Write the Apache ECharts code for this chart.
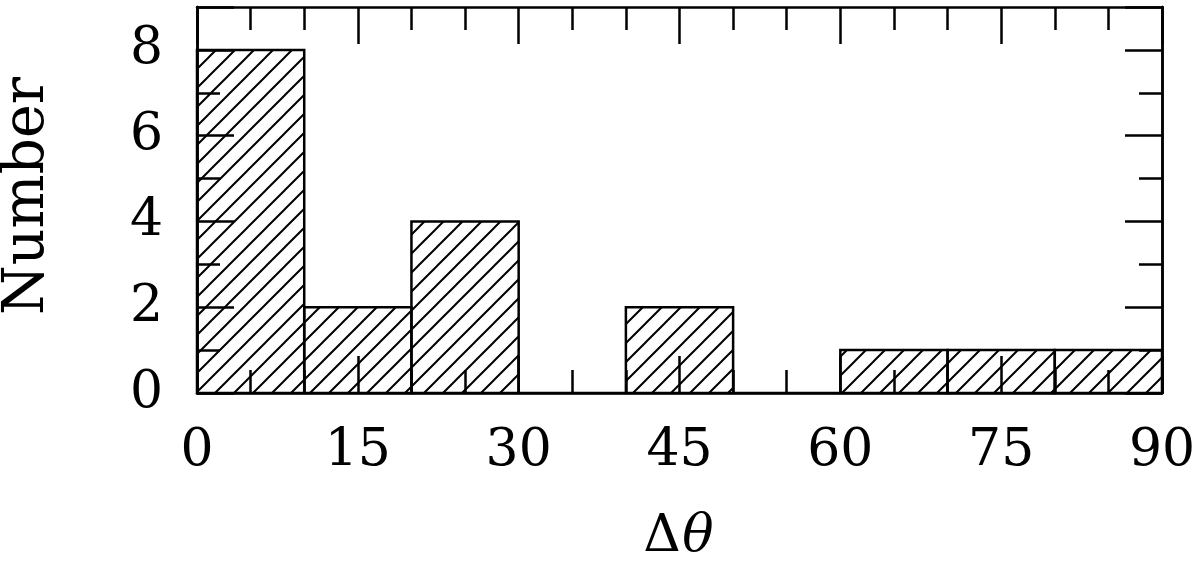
<!DOCTYPE html>
<html>
<head>
<meta charset="utf-8">
<script src="https://cdn.jsdelivr.net/npm/echarts@6/dist/echarts.min.js"></script>
<style>
  html, body { margin: 0; padding: 0; background: #fff; }
  #chart { width: 1200px; height: 564px; }
</style>
</head>
<body>
<div id="chart"></div>
<script>
// histogram bins (degrees) and counts
const binStarts = [0, 10, 20, 30, 40, 50, 60, 70, 80]
const binEnds = [10, 20, 30, 40, 50, 60, 70, 80, 90]
const counts = [8, 2, 4, 0, 2, 0, 1, 1, 1]
const xTicks = [0, 15, 30, 45, 60, 75, 90]
const yTicks = [0, 2, 4, 6, 8]

const font = 'DejaVu Serif'
const ink = '#000'

// diagonal hatch tile "/"
function hatch(size) {
  const c = document.createElement('canvas')
  c.width = size
  c.height = size
  const ctx = c.getContext('2d')
  ctx.strokeStyle = ink
  ctx.lineWidth = 2
  ctx.beginPath()
  ctx.moveTo(-2, size + 2); ctx.lineTo(size + 2, -2)
  ctx.moveTo(-2, 2); ctx.lineTo(2, -2)
  ctx.moveTo(size - 2, size + 2); ctx.lineTo(size + 2, size - 2)
  ctx.stroke()
  return c
}
const pattern = { image: hatch(19), repeat: 'repeat' }

const binData = binStarts.map((s, i) => [s, binEnds[i], counts[i]])

function xAxisOpt(pos, showLabels) {
  return {
    type: 'value', position: pos, min: xTicks[0], max: xTicks[xTicks.length - 1],
    interval: xTicks[1] - xTicks[0],
    axisLine: { show: true, onZero: false, lineStyle: { color: ink, width: 2.5 } },
    axisTick: { show: true, inside: true, length: 37, lineStyle: { color: ink, width: 2.5 } },
    minorTick: { show: true, splitNumber: 3, length: 23, lineStyle: { color: ink, width: 2.5 } },
    axisLabel: { show: showLabels, margin: 32, color: ink, fontFamily: font, fontSize: 52 },
    splitLine: { show: false }
  }
}

function yAxisOpt(pos, interval, len, showLabels) {
  return {
    type: 'value', position: pos, min: 0, max: 9, interval: interval,
    axisLine: { show: true, onZero: false, lineStyle: { color: ink, width: 2.5 } },
    axisTick: { show: true, inside: true, length: len, lineStyle: { color: ink, width: 2.5 } },
    axisLabel: {
      show: showLabels, margin: 34, color: ink, fontFamily: font, fontSize: 52,
      formatter: v => (yTicks.indexOf(v) >= 0 ? String(v) : '')
    },
    splitLine: { show: false }
  }
}

const chart = echarts.init(document.getElementById('chart'), null, { renderer: 'canvas' })
chart.setOption({
  animation: false,
  backgroundColor: '#fff',
  grid: { left: 197, right: 38, top: 7, bottom: 171, containLabel: false },
  xAxis: [xAxisOpt('bottom', true), xAxisOpt('top', false)],
  yAxis: [
    yAxisOpt('left', 1, 23, false),
    yAxisOpt('left', 2, 37, true),
    yAxisOpt('right', 1, 23, false),
    yAxisOpt('right', 2, 37, false)
  ],
  graphic: [
    {
      type: 'text', rotation: Math.PI / 2,
      x: 28, y: 196,
      style: { text: 'Number', font: '57px "' + font + '"', fill: ink, align: 'center', verticalAlign: 'middle' }
    },
    {
      type: 'text', x: 662, y: 537,
      style: { text: 'Δ', font: '52px "' + font + '"', fill: ink, align: 'center', verticalAlign: 'middle' }
    },
    {
      type: 'text', x: 698, y: 537,
      style: { text: 'θ', font: 'italic 52px "' + font + '"', fill: ink, align: 'center', verticalAlign: 'middle' }
    }
  ],
  series: [{
    type: 'custom',
    xAxisIndex: 0,
    yAxisIndex: 0,
    data: binData,
    encode: { x: [0, 1], y: 2 },
    renderItem: function (params, api) {
      const p0 = api.coord([api.value(0), api.value(2)])
      const p1 = api.coord([api.value(1), 0])
      return {
        type: 'rect',
        shape: { x: p0[0], y: p0[1], width: p1[0] - p0[0], height: p1[1] - p0[1] },
        style: { fill: pattern, stroke: ink, lineWidth: 2.5 }
      }
    },
    z: 1
  }]
})
</script>
</body>
</html>
